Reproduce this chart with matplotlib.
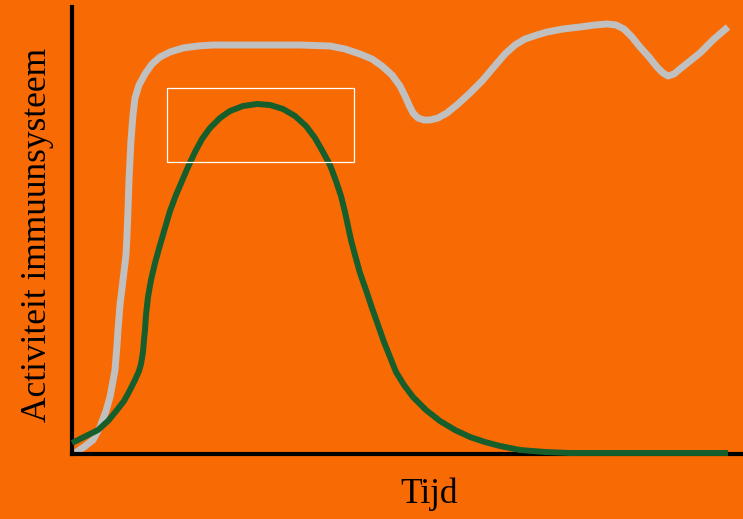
import matplotlib
matplotlib.use("Agg")
import matplotlib.pyplot as plt
from matplotlib.patches import Rectangle

# time vs immune activity, arbitrary units (no ticks on the chart)
gray_t = [3, 12, 21, 28, 34, 38, 43, 45, 46, 48, 51, 54, 55, 56, 57, 58, 59, 61, 63, 67,
          73, 80, 88, 98, 111, 126, 141, 178, 228, 258, 273, 288, 300, 310, 320, 328,
          333, 337, 341, 346, 352, 358, 366, 375, 386, 398, 410, 421, 433, 443, 453,
          465, 475, 491, 508, 523, 535, 544, 552, 560, 568, 577, 585, 591, 596, 602,
          608, 618, 628, 642, 656]
gray_a = [1, 7, 14, 27, 43, 57, 84, 109, 124, 149, 174, 199, 219, 244, 274, 294, 314, 339,
          356, 369, 380, 390, 397, 402, 406, 408, 409, 409, 409, 408, 405, 400, 395,
          388, 379, 368, 358, 349, 341, 336, 334, 334, 336, 341, 350, 361, 373, 386,
          400, 409, 415, 419, 422, 425, 427, 429, 430, 429, 425, 417, 407, 397, 387,
          381, 378, 380, 385, 393, 401, 415, 427]

green_t = [0, 12, 26, 36, 45, 52, 58, 63, 67, 69, 71, 72, 73, 74, 76, 79, 83, 88, 93, 98,
           104, 110, 116, 123, 130, 138, 148, 158, 171, 185, 198, 211, 223, 234, 243,
           251, 258, 264, 269, 273, 276, 279, 283, 288, 294, 300, 306, 312, 318, 324,
           332, 341, 354, 368, 383, 398, 413, 428, 448, 473, 498, 548, 656]
green_a = [11, 17, 24, 33, 44, 53, 64, 74, 83, 90, 102, 114, 124, 139, 157, 174, 191, 209,
           226, 243, 259, 273, 287, 302, 315, 326, 336, 343, 348, 350, 349, 345, 338,
           328, 316, 302, 289, 273, 258, 242, 228, 214, 199, 181, 164, 146, 129, 112,
           97, 82, 69, 57, 44, 33, 24, 17, 12, 8, 4, 2, 1, 1, 1]

# highlighted window (t0, t1, a0, a1)
box = (95, 282, 292, 366)

bg = "#F86A03"

fig = plt.figure(figsize=(7.43, 5.19), dpi=100, facecolor=bg)
ax = fig.add_axes([72 / 743, 65 / 519, 671 / 743, 447 / 519], facecolor=bg)

ax.plot(gray_t, gray_a, color="#C0C0C0", lw=5, solid_capstyle="butt",
        solid_joinstyle="round", clip_on=False, zorder=2)
ax.plot(green_t, green_a, color="#165E2C", lw=4.3, solid_capstyle="butt",
        solid_joinstyle="round", clip_on=False, zorder=3)

ax.add_patch(Rectangle((box[0], box[2]), box[1] - box[0], box[3] - box[2],
                       fill=False, edgecolor="white", lw=0.9, zorder=4))

ax.set_xlim(0, 671)
ax.set_ylim(0, 447)
for s in ["top", "right"]:
    ax.spines[s].set_visible(False)
for s in ["left", "bottom"]:
    ax.spines[s].set_color("black")
    ax.spines[s].set_linewidth(3)
ax.set_xticks([])
ax.set_yticks([])

fig.text(38 / 743, 1 - 235 / 519, "Activiteit immuunsysteem", rotation=90,
         ha="center", va="center", fontsize=25.5, family="Liberation Serif")
fig.text(429 / 743, 1 - 494 / 519, "Tijd", ha="center", va="center",
         fontsize=25.5, family="Liberation Serif")

fig.savefig("out.png", dpi=100, facecolor=bg)
